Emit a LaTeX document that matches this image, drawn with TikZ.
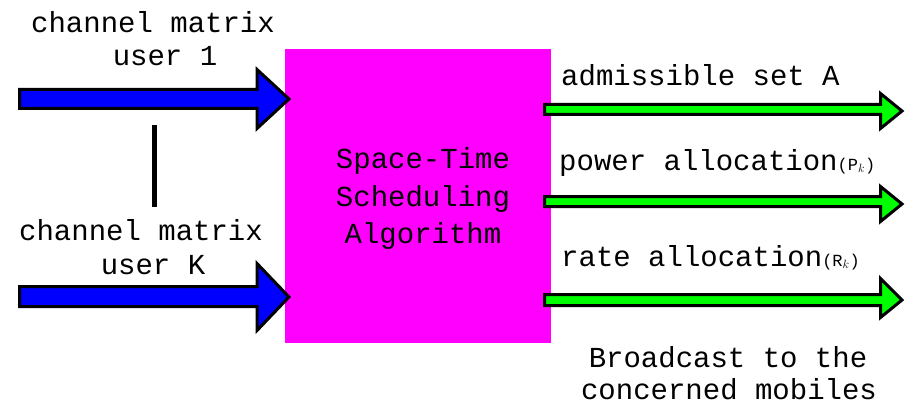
\documentclass[tikz,border=0pt]{standalone}
\usepackage{fontspec}
\setmainfont{Liberation Mono}
\definecolor{mag}{RGB}{255,0,255}
\definecolor{blu}{RGB}{0,0,255}
\definecolor{grn}{RGB}{0,255,0}
\newcommand{\mysubfont}{\fontsize{17}{20}\selectfont}
\begin{document}
\begin{tikzpicture}[x=1pt,y=-1pt,
  lbl/.style={font=\fontsize{29}{34}\selectfont, inner sep=0pt, anchor=base},
  lblw/.style={lbl, anchor=base west},
  barrow/.style={draw=black, line width=3pt, fill=blu, line join=miter},
  garrow/.style={draw=black, line width=3pt, fill=grn, line join=miter},
  boxst/.style={fill=mag, draw=none, inner sep=0pt, minimum width=266pt, minimum height=294pt}]
\useasboundingbox (0,0) rectangle (910,409);
\fill[white] (0,0) rectangle (910,409);
% central box
\node[boxst] (box) at (418,196) {};
\node[lbl] (alg1) at (423,168) {Space-Time};
\node[lbl] (alg2) at (423,206) {Scheduling};
\node[lbl] (alg3) at (423,243) {Algorithm};
% input labels
\node[lbl] (c1) at (153,33) {channel matrix};
\node[lbl] (u1) at (165,66) {user 1};
\node[lbl] (c2) at (141,240) {channel matrix};
\node[lbl] (u2) at (153,274) {user K};
% vertical bar
\coordinate (vt) at (154.5,125);
\coordinate (vb) at (154.5,207);
\draw[line width=5pt] (vt) -- (vb);
% blue arrows
\draw[barrow] (19.5,89.5) -- (257,89.5) -- (257,69.5) -- (289,99) -- (257,128.5) -- (257,108.5) -- (19.5,108.5) -- cycle;
\draw[barrow] (19.5,286.5) -- (257,286.5) -- (257,263.5) -- (289,297) -- (257,330.5) -- (257,306.5) -- (19.5,306.5) -- cycle;
% green arrows
\draw[garrow] (544.5,104.5) -- (880.5,104.5) -- (880.5,93.5) -- (902,111) -- (880.5,128.5) -- (880.5,114.5) -- (544.5,114.5) -- cycle;
\draw[garrow] (544.5,196.5) -- (880.5,196.5) -- (880.5,186.5) -- (902,204) -- (880.5,221.5) -- (880.5,206.5) -- (544.5,206.5) -- cycle;
\draw[garrow] (544.5,294.5) -- (880.5,294.5) -- (880.5,278.5) -- (902,300) -- (880.5,317.5) -- (880.5,305.5) -- (544.5,305.5) -- cycle;
% output labels
\node[lblw] (o1) at (561,86) {admissible set A};
\node[lblw] (o2) at (559,170) {power allocation{\mysubfont(P$_k$)}};
\node[lblw] (o3) at (561,266) {rate allocation{\mysubfont(R$_k$)}};
\node[lbl] (b1) at (728,367) {Broadcast to the};
\node[lbl] (b2) at (729,399) {concerned mobiles};
\end{tikzpicture}
\end{document}
